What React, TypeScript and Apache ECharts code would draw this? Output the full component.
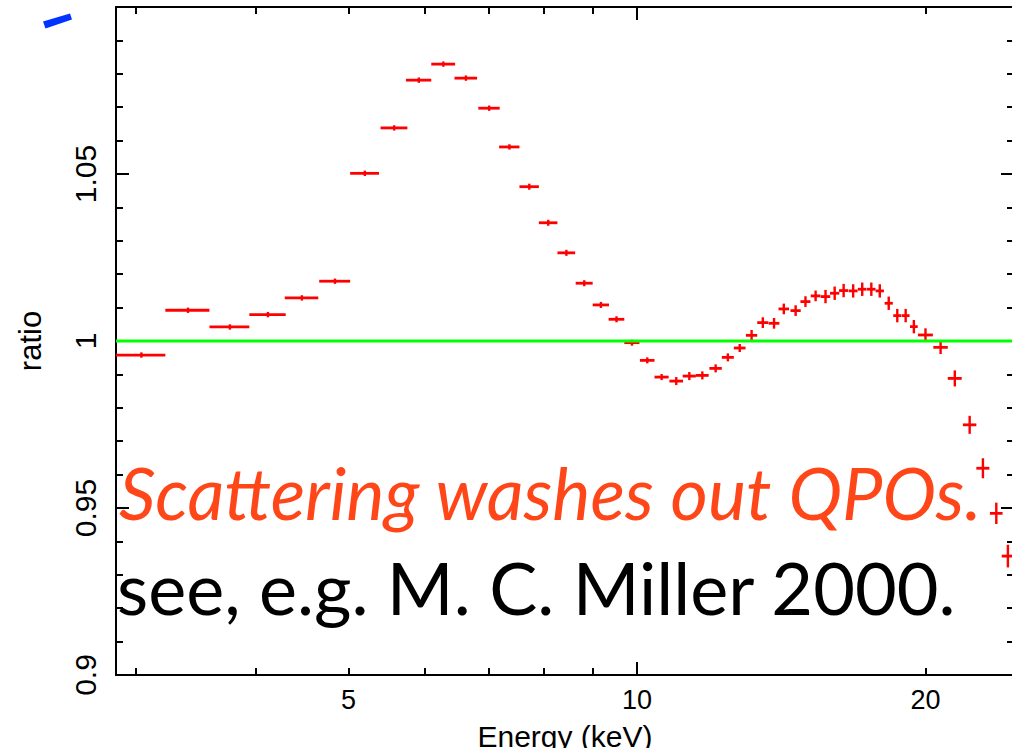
import React, { useEffect, useRef } from "react";
import * as echarts from "echarts";

// Energy bin centres (keV), bin half-widths (keV), data/model ratio and its 1-sigma error
const energyKeV = [
  3.04, 3.4, 3.76, 4.12, 4.47, 4.84, 5.2, 5.58, 5.92, 6.28,
  6.63, 7.01, 7.36, 7.72, 8.08, 8.44, 8.81, 9.17, 9.52, 9.88,
  10.25, 10.61, 10.99, 11.34, 11.7, 12.08, 12.44, 12.8, 13.17, 13.53,
  13.9, 14.23, 14.64, 14.99, 15.36, 15.73, 16.08, 16.43, 16.81, 17.18,
  17.56, 17.92, 18.31, 18.69, 19.07, 19.45, 20.0, 20.74, 21.46, 22.24,
  22.96, 23.71, 24.38,
];
const energyHalfWidth = [
  0.18, 0.18, 0.18, 0.18, 0.18, 0.18, 0.18, 0.18, 0.18, 0.18,
  0.18, 0.18, 0.18, 0.18, 0.18, 0.18, 0.18, 0.18, 0.18, 0.18,
  0.18, 0.18, 0.18, 0.18, 0.18, 0.18, 0.18, 0.18, 0.18, 0.18,
  0.18, 0.18, 0.18, 0.18, 0.18, 0.18, 0.18, 0.18, 0.18, 0.18,
  0.18, 0.18, 0.18, 0.18, 0.18, 0.18, 0.36, 0.36, 0.36, 0.36,
  0.36, 0.36, 0.36,
];
const ratio = [
  0.9958, 1.0092, 1.0042, 1.0079, 1.0129, 1.0179, 1.0502, 1.0638, 1.0781, 1.0829,
  1.0787, 1.0697, 1.0581, 1.0462, 1.0354, 1.0264, 1.0173, 1.0108, 1.0065, 0.9995,
  0.9942, 0.9892, 0.988, 0.9895, 0.9897, 0.9918, 0.9951, 0.9979, 1.0017, 1.0055,
  1.0053, 1.0096, 1.0091, 1.0118, 1.0135, 1.0133, 1.0143, 1.0151, 1.015, 1.0155,
  1.0155, 1.015, 1.0113, 1.0076, 1.0076, 1.0043, 1.0018, 0.9981, 0.9888, 0.9749,
  0.9619, 0.9484, 0.9356,
];
const ratioErr = [
  0.0008, 0.0008, 0.0008, 0.0008, 0.0008, 0.0008, 0.0008, 0.0008, 0.0008, 0.0008,
  0.0008, 0.0008, 0.0008, 0.0009, 0.0009, 0.0009, 0.0009, 0.0009, 0.0009, 0.0009,
  0.0009, 0.0009, 0.0012, 0.0012, 0.0012, 0.0012, 0.0012, 0.0012, 0.0016, 0.0016,
  0.0016, 0.0016, 0.0016, 0.0016, 0.0016, 0.002, 0.002, 0.002, 0.002, 0.002,
  0.002, 0.002, 0.002, 0.002, 0.002, 0.002, 0.002, 0.002, 0.0024, 0.0027,
  0.003, 0.0032, 0.0034,
];

// Model (ratio = 1) line
const modelEnergy = [2.86, 24.74];
const modelRatio = [1, 1];

// Axis ranges and ticks
const energyRange = [2.86, 24.74];
const ratioRange = [0.9, 1.1];
const xLabelTicks = [5, 10, 20];
const xMajorTicks = [10];
const xMinorTicks = [3, 4, 5, 6, 7, 8, 9, 20];
const yLabelTicks = [0.9, 0.95, 1, 1.05];

const lg = (v: number) => Math.log10(v);
const AXIS_FONT = "'Liberation Sans', Arial, Helvetica, sans-serif";

export default function App() {
  const ref = useRef<HTMLDivElement>(null);

  useEffect(() => {
    if (!ref.current) return;
    const chart = echarts.init(ref.current, null, { renderer: "svg" });

    const xmin = lg(energyRange[0]);
    const xmax = lg(energyRange[1]);
    const black = { color: "#000", width: 2 };

    const xBase = (position: string) => ({
      type: "value",
      position,
      min: xmin,
      max: xmax,
      splitLine: { show: false },
      minorSplitLine: { show: false },
    });

    const xMajor = (position: string, withLabels: boolean) => ({
      ...xBase(position),
      axisLine: { show: true, onZero: false, lineStyle: black },
      axisTick: {
        show: true,
        inside: true,
        length: 13,
        customValues: xMajorTicks.map(lg),
        lineStyle: black,
      },
      axisLabel: withLabels
        ? {
            show: true,
            customValues: xLabelTicks.map(lg),
            formatter: (v: number) => String(Math.round(Math.pow(10, v))),
            fontSize: 27,
            color: "#000",
            margin: 11,
            fontFamily: AXIS_FONT,
          }
        : { show: false },
      ...(withLabels
        ? {
            name: "Energy (keV)",
            nameLocation: "middle",
            nameGap: 46,
            nameTextStyle: {
              fontSize: 30,
              color: "#000",
              fontFamily: AXIS_FONT,
              verticalAlign: "top",
            },
          }
        : {}),
    });

    const xMinor = (position: string) => ({
      ...xBase(position),
      axisLine: { show: false, onZero: false },
      axisTick: {
        show: true,
        inside: true,
        length: 7,
        customValues: xMinorTicks.map(lg),
        lineStyle: black,
      },
      axisLabel: { show: false },
    });

    const yAxisDef = (position: string, withLabels: boolean) => ({
      type: "value",
      position,
      min: ratioRange[0],
      max: ratioRange[1],
      interval: 0.05,
      axisLine: { show: true, onZero: false, lineStyle: black },
      axisTick: { show: true, inside: true, length: 13, lineStyle: black },
      minorTick: { show: true, splitNumber: 5, length: 7, lineStyle: black },
      splitLine: { show: false },
      minorSplitLine: { show: false },
      axisLabel: withLabels
        ? {
            show: true,
            customValues: yLabelTicks,
            rotate: 90,
            fontSize: 30,
            color: "#000",
            margin: 16,
            fontFamily: AXIS_FONT,
            formatter: (v: number) => String(Number(v.toFixed(2))),
          }
        : { show: false },
      ...(withLabels
        ? {
            name: "ratio",
            nameLocation: "middle",
            nameGap: 70,
            nameRotate: 90,
            nameTextStyle: { fontSize: 31, color: "#000", fontFamily: AXIS_FONT },
          }
        : {}),
    });

    const errorData = energyKeV.map((e, i) => [
      lg(e),
      ratio[i],
      lg(e - energyHalfWidth[i]),
      lg(e + energyHalfWidth[i]),
      ratio[i] - ratioErr[i],
      ratio[i] + ratioErr[i],
    ]);

    const option: any = {
      animation: false,
      backgroundColor: "#fff",
      textStyle: { fontFamily: AXIS_FONT },
      grid: {
        left: 116,
        top: 7,
        width: 898,
        height: 668,
        containLabel: false,
        outerBoundsMode: "none",
      },
      xAxis: [
        xMajor("bottom", true),
        xMinor("bottom"),
        xMajor("top", false),
        xMinor("top"),
      ],
      yAxis: [yAxisDef("left", true), yAxisDef("right", false)],
      series: [
        {
          type: "custom",
          xAxisIndex: 0,
          yAxisIndex: 0,
          clip: false,
          encode: { x: 0, y: 1 },
          data: errorData,
          renderItem: (_params: any, api: any) => {
            const l = api.coord([api.value(2), api.value(1)]);
            const r = api.coord([api.value(3), api.value(1)]);
            const lo = api.coord([api.value(0), api.value(4)]);
            const hi = api.coord([api.value(0), api.value(5)]);
            return {
              type: "group",
              children: [
                {
                  type: "line",
                  shape: { x1: l[0], y1: l[1], x2: r[0], y2: r[1] },
                  style: { stroke: "#ff0000", lineWidth: 2.8 },
                },
                {
                  type: "line",
                  shape: { x1: lo[0], y1: lo[1], x2: hi[0], y2: hi[1] },
                  style: { stroke: "#ff0000", lineWidth: 2.4 },
                },
              ],
            };
          },
        },
        {
          type: "line",
          xAxisIndex: 0,
          yAxisIndex: 0,
          data: modelEnergy.map((e, i) => [lg(e), modelRatio[i]]),
          symbol: "none",
          lineStyle: { color: "#00ff00", width: 3 },
          z: 3,
        },
      ],
      graphic: [
        {
          type: "polygon",
          shape: {
            points: [
              [43, 21.5],
              [70, 13.5],
              [72, 19.5],
              [45.5, 28.5],
            ],
          },
          style: { fill: "#0033ff" },
        },
        {
          type: "text",
          x: 119,
          y: 456,
          style: {
            text: "Scattering washes out QPOs.",
            font: "italic 72px Lato, 'Open Sans', sans-serif",
            fill: "#ff4619",
            textVerticalAlign: "top",
            textAlign: "left",
          },
          z: 10,
        },
        {
          type: "text",
          x: 117,
          y: 551,
          style: {
            text: "see, e.g. M. C. Miller 2000.",
            font: "72px Lato, 'Open Sans', sans-serif",
            fill: "#000",
            textVerticalAlign: "top",
            textAlign: "left",
          },
          z: 10,
        },
      ],
    };

    chart.setOption(option);
    return () => chart.dispose();
  }, []);

  return (
    <div
      ref={ref}
      style={{
        position: "absolute",
        left: 0,
        top: 0,
        width: 1012,
        height: 748,
        background: "#fff",
      }}
    />
  );
}
